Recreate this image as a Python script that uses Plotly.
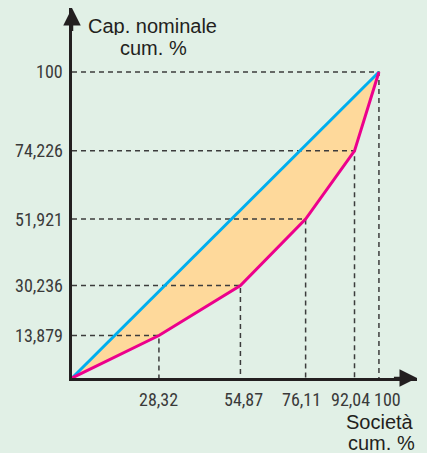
import plotly.graph_objects as go

# Data: cumulative shares (Lorenz curve)
societa_cum = [0, 28.32, 54.87, 76.11, 92.04, 100]
capitale_cum = [0, 13.879, 30.236, 51.921, 74.226, 100]
equal_line_x = [0, 100]
equal_line_y = [0, 100]


def fmt(v):
    return f"{v:g}".replace(".", ",")


x_ticks = societa_cum[1:]
y_ticks = capitale_cum[1:]
x_ticktext = [fmt(v) for v in x_ticks]
y_ticktext = [fmt(v) for v in y_ticks]
# horizontal nudge (px) of x labels so that close labels do not collide
x_label_shift = [0, 3, -4, -4, 9]

BG = "#e1f0e6"
DARK = "#231f20"
BLUE = "#00aeef"
MAGENTA = "#ec008c"
FILL = "#fed99b"
DASH = "#3c3c3c"
TICKFONT = dict(family="Liberation Sans Narrow, Roboto Condensed, DejaVu Sans Condensed, sans-serif",
                size=18, color="#3a3a3a")
TITLEFONT = dict(family="Liberation Sans, Lato, sans-serif", size=20, color=DARK)

fig = go.Figure()

# concentration area between equality line and Lorenz curve
poly_x = equal_line_x + societa_cum[::-1]
poly_y = equal_line_y + capitale_cum[::-1]
fig.add_trace(go.Scatter(x=poly_x, y=poly_y, mode="lines", fill="toself",
                         fillcolor=FILL, line=dict(width=0), hoverinfo="skip",
                         showlegend=False))

# dashed guide lines
for xv, yv in zip(societa_cum[1:], capitale_cum[1:]):
    fig.add_trace(go.Scatter(x=[0, xv, xv], y=[yv, yv, 0], mode="lines",
                             line=dict(color=DASH, width=1.5, dash="5px,4px"),
                             hoverinfo="skip", showlegend=False))

# equality line
fig.add_trace(go.Scatter(x=equal_line_x, y=equal_line_y, mode="lines",
                         line=dict(color=BLUE, width=3), showlegend=False))
# Lorenz curve
fig.add_trace(go.Scatter(x=societa_cum, y=capitale_cum, mode="lines",
                         line=dict(color=MAGENTA, width=3), showlegend=False))

XMAX = 112.4
YMAX = 120.9

fig.update_layout(
    width=427, height=453,
    margin=dict(l=72, r=10, t=8, b=75),
    paper_bgcolor=BG, plot_bgcolor=BG,
    xaxis=dict(range=[0, XMAX], showticklabels=False,
               showgrid=False, zeroline=False, showline=True, linecolor=DARK,
               linewidth=2.5, ticks="", automargin=False, fixedrange=True),
    yaxis=dict(range=[0, YMAX], showticklabels=False,
               showgrid=False, zeroline=False, showline=True, linecolor=DARK,
               linewidth=2.5, ticks="", automargin=False, fixedrange=True),
    showlegend=False,
)

# x tick labels
for xv, txt, sh in zip(x_ticks, x_ticktext, x_label_shift):
    fig.add_annotation(x=xv, y=0, xref="x", yref="y", text=txt, showarrow=False,
                       font=TICKFONT, xanchor="center", yanchor="top",
                       xshift=sh, yshift=-9)
# y tick labels
for yv, txt in zip(y_ticks, y_ticktext):
    fig.add_annotation(x=0, y=yv, xref="x", yref="y", text=txt, showarrow=False,
                       font=TICKFONT, xanchor="right", yanchor="middle",
                       xshift=-7)

# arrowheads on axes
fig.add_annotation(x=XMAX, y=0, ax=XMAX - 8, ay=0, xref="x", yref="y",
                   axref="x", ayref="y", text="", showarrow=True,
                   arrowhead=2, arrowsize=1.4, arrowwidth=2.5, arrowcolor=DARK,
                   standoff=0)
fig.add_annotation(x=0, y=YMAX, ax=0, ay=YMAX - 8, xref="x", yref="y",
                   axref="x", ayref="y", text="", showarrow=True,
                   arrowhead=2, arrowsize=1.4, arrowwidth=2.5, arrowcolor=DARK,
                   standoff=0)


def px_x(p):
    return (p - 72) / 345


def px_y(p):
    return (378 - p) / 370


# axis titles
for txt, cx, cy in [("Cap. nominale", 152, 26), ("cum. %", 153, 47),
                    ("Società", 380, 421), ("cum. %", 381, 442)]:
    fig.add_annotation(x=px_x(cx), y=px_y(cy), xref="paper", yref="paper",
                       text=txt, showarrow=False, font=TITLEFONT, height=19,
                       xanchor="center", yanchor="middle")

fig.write_html("out.html", config={"displayModeBar": False},
               post_script="document.body.style.margin='0';document.body.style.overflow='hidden';")
